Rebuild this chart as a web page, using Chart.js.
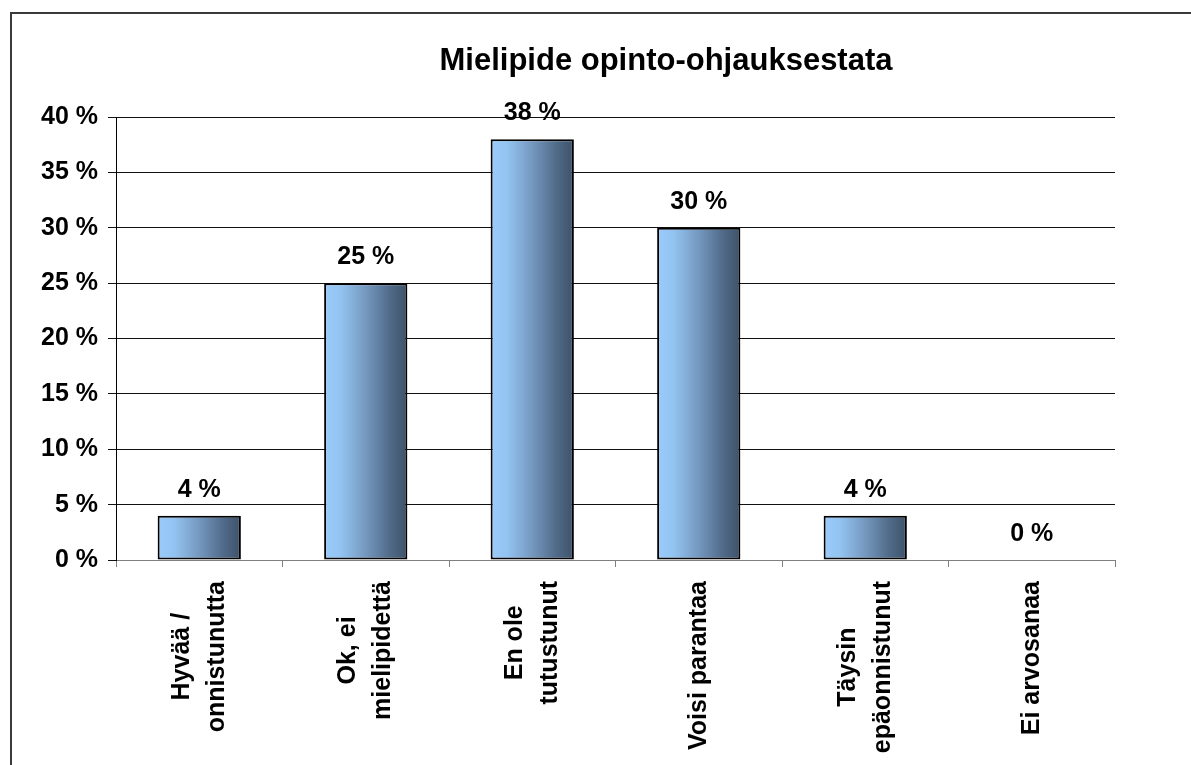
<!DOCTYPE html>
<html>
<head>
<meta charset="utf-8">
<script src="https://cdn.jsdelivr.net/npm/chart.js@4"></script>
<style>
  html, body { margin: 0; padding: 0; background: #fff; }
  canvas { display: block; }
</style>
</head>
<body>
<canvas id="opintoChart" width="1191" height="765"></canvas>
<script>
// Mielipide opinto-ohjauksesta - bar chart

const chartTitle = 'Mielipide opinto-ohjauksestata';
const categories = [
    ['Hyvää /', 'onnistunutta'],
    ['Ok, ei', 'mielipidettä'],
    ['En ole', 'tutustunut'],
    ['Voisi parantaa'],
    ['Täysin', 'epäonnistunut'],
    ['Ei arvosanaa']
];
const values = [4, 25, 38, 30, 4, 0];
const yMin = 0;
const yMax = 40;
const yStep = 5;

const FONT = "'Liberation Sans', Arial, sans-serif";
const BAR_PCT = 0.5;

function barGradient(context) {
    const chart = context.chart;
    const xScale = chart.scales.x;
    if (!chart.chartArea || !xScale) return '#8fb8e6';
    const cx = xScale.getPixelForValue(context.dataIndex);
    const w = xScale.width / categories.length * BAR_PCT;
    const g = chart.ctx.createLinearGradient(cx - w / 2, 0, cx + w / 2, 0);
    g.addColorStop(0, '#9acbfa');
    g.addColorStop(0.2, '#93c3f1');
    g.addColorStop(0.5, '#7598bf');
    g.addColorStop(0.8, '#4f6987');
    g.addColorStop(1, '#3e5269');
    return g;
}

const decorations = {
    id: 'decorations',
    afterDraw(chart) {
        const ctx = chart.ctx;
        const xScale = chart.scales.x;
        const area = chart.chartArea;
        ctx.save();

        // outer frame (only top and left are visible)
        ctx.strokeStyle = '#3a3a3a';
        ctx.lineWidth = 2;
        ctx.beginPath();
        ctx.moveTo(11, chart.height);
        ctx.lineTo(11, 13);
        ctx.lineTo(chart.width, 13);
        ctx.stroke();

        // title
        ctx.fillStyle = '#000';
        ctx.font = 'bold 31px ' + FONT;
        ctx.textAlign = 'center';
        ctx.textBaseline = 'alphabetic';
        ctx.fillText(chartTitle, 666, 70);

        // value labels
        const meta = chart.getDatasetMeta(0);
        ctx.font = 'bold 25px ' + FONT;
        meta.data.forEach((bar, i) => {
            ctx.fillText(values[i] + ' %', bar.x, bar.y - 19);
        });

        // category labels, rotated, lines centred in a block anchored at the axis
        const lineGap = 35;
        categories.forEach((lines, i) => {
            const cx = xScale.getPixelForValue(i);
            const maxW = Math.max(...lines.map(l => ctx.measureText(l).width));
            const cy = area.bottom + 21 + maxW / 2;
            ctx.save();
            ctx.translate(cx, cy);
            ctx.rotate(-Math.PI / 2);
            ctx.textAlign = 'center';
            ctx.textBaseline = 'middle';
            lines.forEach((line, j) => {
                ctx.fillText(line, 0, (j - (lines.length - 1) / 2) * lineGap);
            });
            ctx.restore();
        });

        ctx.restore();
    }
};

new Chart(document.getElementById('opintoChart'), {
    type: 'bar',
    data: {
        labels: categories,
        datasets: [{
            data: values,
            backgroundColor: barGradient,
            borderColor: '#000',
            borderWidth: (c) => values[c.dataIndex] === 0 ? 0 : 2,
            borderSkipped: false,
            barPercentage: BAR_PCT,
            categoryPercentage: 1
        }]
    },
    options: {
        responsive: false,
        animation: false,
        layout: {
            padding: { top: 117, right: 76, bottom: 0, left: 0 }
        },
        plugins: {
            legend: { display: false },
            title: { display: false },
            tooltip: { enabled: false }
        },
        scales: {
            x: {
                grid: {
                    offset: true,
                    drawOnChartArea: false,
                    tickLength: 7,
                    color: '#808080'
                },
                border: { color: '#808080', width: 1 },
                ticks: { display: false },
                afterFit(scale) { scale.height = 205; }
            },
            y: {
                min: yMin,
                max: yMax,
                grid: {
                    color: '#111',
                    tickLength: 8
                },
                border: { color: '#000', width: 1 },
                ticks: {
                    stepSize: yStep,
                    color: '#000',
                    padding: 10,
                    font: { family: FONT, size: 25, weight: 'bold' },
                    callback: (v) => v + ' %'
                },
                afterFit(scale) { scale.width = 116; }
            }
        }
    },
    plugins: [decorations]
});
</script>
</body>
</html>
